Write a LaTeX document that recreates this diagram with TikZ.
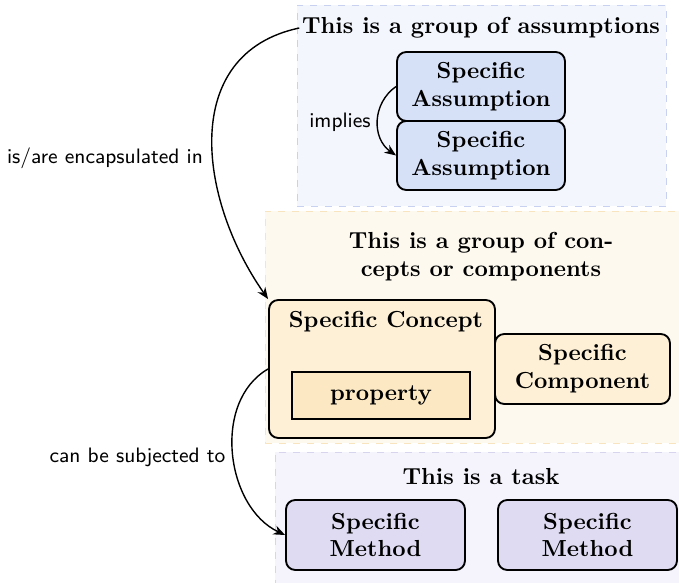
\documentclass[tikz,border=0pt]{standalone}
\usetikzlibrary{arrows.meta}
\definecolor{grpA}{RGB}{244,246,254}
\definecolor{grpAline}{RGB}{200,210,240}
\definecolor{boxA}{RGB}{214,224,247}
\definecolor{grpC}{RGB}{253,249,239}
\definecolor{grpCline}{RGB}{248,228,190}
\definecolor{boxC}{RGB}{253,240,214}
\definecolor{propC}{RGB}{252,233,195}
\definecolor{grpT}{RGB}{245,243,251}
\definecolor{grpTline}{RGB}{215,212,238}
\definecolor{boxT}{RGB}{223,219,242}
\def\pxu{0.431pt}
\tikzset{
  grp/.style={draw, dashed, line width=0.4pt, minimum width=#1},
  itembox/.style={draw=black, line width=0.8pt, rounded corners=4pt, align=center,
    font=\bfseries, inner sep=0pt},
  gtitle/.style={font=\bfseries, align=center, inner sep=1pt},
  rel/.style={-{Stealth[length=5pt,width=4pt]}, line width=0.6pt},
  rellabel/.style={font=\sffamily\small, inner sep=1pt},
}
\begin{document}
\begin{tikzpicture}[x=\pxu, y=\pxu]
\useasboundingbox (0,0) rectangle (679,-583);

% group of assumptions
\node[grp=369*\pxu, draw=grpAline, fill=grpA, minimum height=201*\pxu] (gA) at (481.5,-105.5) {};
\node[gtitle] (gAt) at (481,-28) {This is a group of assumptions};
\node[itembox, fill=boxA, minimum width=168*\pxu, minimum height=69*\pxu] (a1) at (481,-86.5) {Specific\\Assumption};
\node[itembox, fill=boxA, minimum width=168*\pxu, minimum height=69*\pxu] (a2) at (481,-155.5) {Specific\\Assumption};

% group of concepts or components
\node[grp=416*\pxu, draw=grpCline, fill=grpC, minimum height=232*\pxu] (gC) at (473,-327) {};
\node[gtitle] (gCt) at (481,-256.5) {This is a group of con-\\cepts or components};
\node[itembox, fill=boxC, minimum width=226*\pxu, minimum height=138*\pxu] (concept) at (382,-369) {};
\node[gtitle] (conceptt) at (386,-322) {Specific Concept};
\node[itembox, rounded corners=0pt, fill=propC, minimum width=178*\pxu, minimum height=47*\pxu] (prop) at (381,-395.5) {property};
\node[itembox, fill=boxC, minimum width=175*\pxu, minimum height=70*\pxu] (comp) at (582.5,-369) {Specific\\Component};

% task
\node[grp=406*\pxu, draw=grpTline, fill=grpT, minimum height=132*\pxu] (gT) at (478,-518) {};
\node[gtitle] (gTt) at (481,-477) {This is a task};
\node[itembox, fill=boxT, minimum width=179*\pxu, minimum height=70*\pxu] (m1) at (375.5,-535) {Specific\\Method};
\node[itembox, fill=boxT, minimum width=179*\pxu, minimum height=70*\pxu] (m2) at (587.5,-535) {Specific\\Method};

% relations
\draw[rel] (a1.west) to[out=215, in=145, looseness=1.1] (a2.west);
\node[rellabel] (limp) at (340,-122) {implies};

\draw[rel] (gAt.west) to[out=192, in=125, looseness=1.15] (concept.north west);
\node[rellabel] (lenc) at (105,-158) {is/are encapsulated in};

\draw[rel] (concept.west) to[out=210, in=155, looseness=1.0] (m1.west);
\node[rellabel] (lsub) at (137.5,-457) {can be subjected to};
\end{tikzpicture}
\end{document}
